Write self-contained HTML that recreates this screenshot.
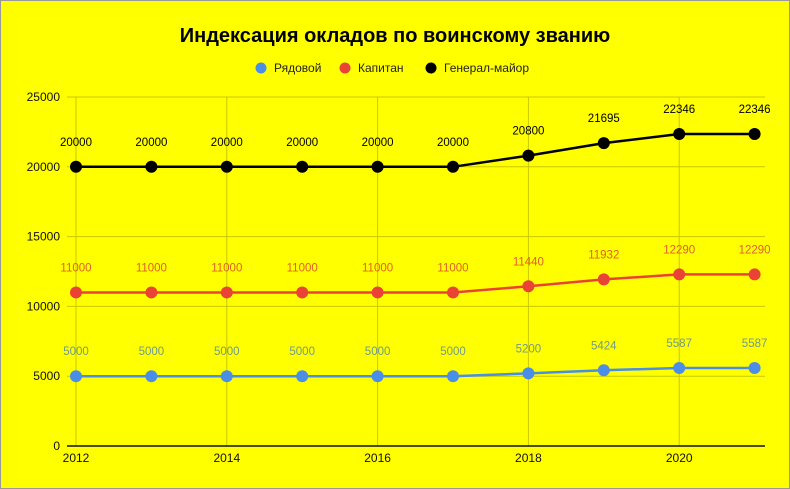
<!DOCTYPE html>
<html><head><meta charset="utf-8"><style>
html,body{margin:0;padding:0;background:#ffff00;}
svg{display:block;font-family:"Liberation Sans","Noto Sans CJK SC",sans-serif;}
</style></head><body>
<svg id="chart" width="790" height="489" viewBox="0 0 790 489" xmlns="http://www.w3.org/2000/svg">
<rect x="0.5" y="0.5" width="789" height="488" fill="#ffff00" stroke="#999" stroke-width="1"/>
<text x="395" y="42" text-anchor="middle" font-size="20" font-weight="bold" fill="#000">Индексация окладов по воинскому званию</text>
<g>
<g><circle cx="261" cy="68" r="5.5" fill="#4a8ee8"/><text x="274" y="72" font-size="12" fill="#222">Рядовой</text></g>
<g><circle cx="345" cy="68" r="5.5" fill="#ea4335"/><text x="358" y="72" font-size="12" fill="#222">Капитан</text></g>
<g><circle cx="431" cy="68" r="5.5" fill="#000"/><text x="444" y="72" font-size="12" fill="#222">Генерал-майор</text></g>
</g>
<g id="grid"></g>
<g id="series"></g>
</svg>
<script>
const years = [2012,2013,2014,2015,2016,2017,2018,2019,2020,2021];
const privateVals = [5000,5000,5000,5000,5000,5000,5200,5424,5587,5587];
const captainVals = [11000,11000,11000,11000,11000,11000,11440,11932,12290,12290];
const generalVals = [20000,20000,20000,20000,20000,20000,20800,21695,22346,22346];
const yTicks = [0,5000,10000,15000,20000,25000];
const xTicks = [2012,2014,2016,2018,2020];

const NS="http://www.w3.org/2000/svg";
const x = yr => 76 + (yr-2012)*75.4;
const y = v => 446 - v/25000*349;
function mk(tag, attrs, parent){const e=document.createElementNS(NS,tag);for(const k in attrs)e.setAttribute(k,attrs[k]);parent.appendChild(e);return e;}
const grid=document.getElementById('grid'), series=document.getElementById('series');
yTicks.forEach(t=>{
  if(t>0){const l=mk('line',{x1:67,x2:765,y1:y(t),y2:y(t),stroke:'#c8c800','stroke-width':1},grid);
  
  }
  const tx=mk('text',{x:60,y:y(t)+4,'text-anchor':'end','font-size':12,fill:'#111'},grid);tx.textContent=t;
  
  
});
xTicks.forEach(t=>{
  const l=mk('line',{x1:x(t),x2:x(t),y1:97,y2:446,stroke:'#c8c800','stroke-width':1},grid);
  
  
  const tx=mk('text',{x:x(t),y:462,'text-anchor':'middle','font-size':12,fill:'#111'},grid);tx.textContent=t;
  
  
});
const base=mk('line',{x1:67,x2:765,y1:446,y2:446,stroke:'#111','stroke-width':1.5},grid);


function draw(vals,color,lblColor,name){
  const g=mk('g',{},series);
  
  
  const p=mk('polyline',{points:vals.map((v,i)=>x(years[i])+','+y(v)).join(' '),fill:'none',stroke:color,'stroke-width':2.5},g);
  
  
  vals.forEach((v,i)=>{
    const c=mk('circle',{cx:x(years[i]),cy:y(v),r:6,fill:color},g);
    
    
    const t=mk('text',{x:x(years[i]),y:y(v)-21,'text-anchor':'middle','font-size':11.5,fill:lblColor},g);t.textContent=v;
    
    
  });
}
draw(privateVals,'#4a8ee8','#6f9a8a','private');
draw(captainVals,'#ea4335','#e0602a','captain');
draw(generalVals,'#000','#000','major-general');
</script>
</body></html>
